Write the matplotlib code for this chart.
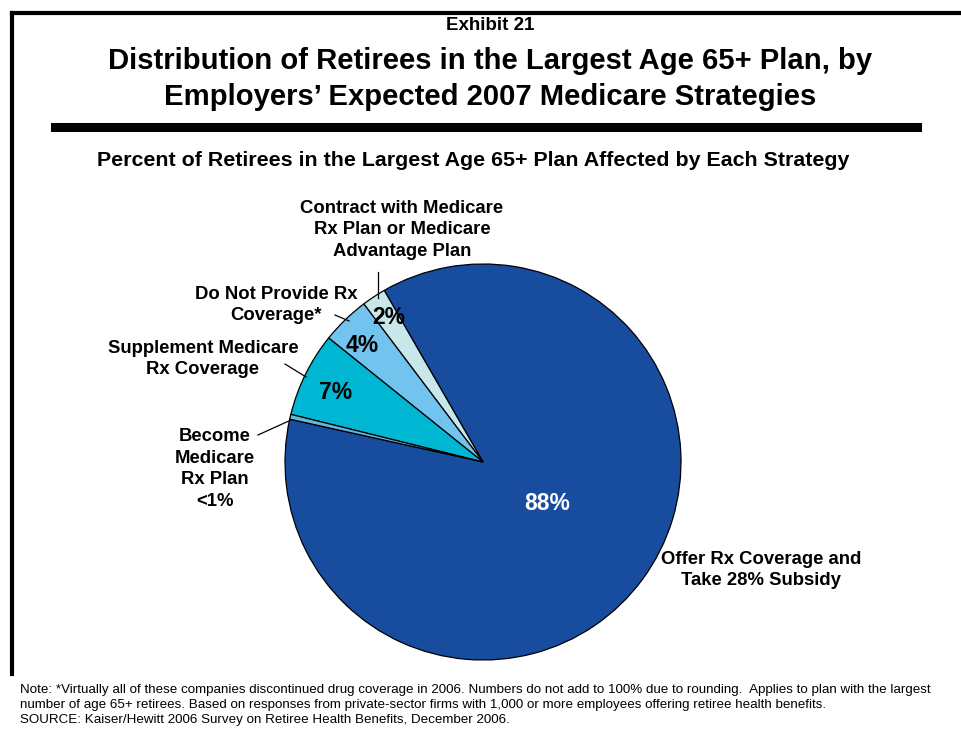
import matplotlib
matplotlib.use("Agg")
import matplotlib.pyplot as plt
from matplotlib.lines import Line2D

plt.rcParams['font.family'] = ['Liberation Sans', 'DejaVu Sans']

# Kesimler: büyükten başlayıp saat yönünün tersine
strategies = ['Offer Rx Coverage and\nTake 28% Subsidy',
              'Contract with Medicare\nRx Plan or Medicare\nAdvantage Plan',
              'Do Not Provide Rx\nCoverage*',
              'Supplement Medicare\nRx Coverage',
              'Become\nMedicare\nRx Plan\n<1%']
percents = [88, 2, 4, 7, 0.4]
pct_labels = ['88%', '2%', '4%', '7%', '']
colors = ['#174C9E', '#C8E7EB', '#72C3ED', '#00B7D3', '#5FB9E0']

W, H = 961, 730
fig = plt.figure(figsize=(W / 100, H / 100), dpi=100)


def px(x, y):
    # piksel koordinatından figür oranına
    return x / W, 1 - y / H


def yazi(x, y, s, size, ls=1.35, **kw):
    fig.text(*px(x, y), s, fontsize=size, fontweight='bold',
             ha='center', va='center', linespacing=ls, **kw)


def cizgi(x0, y0, x1, y1, lw=0.9):
    a, b = px(x0, y0)
    c, d = px(x1, y1)
    fig.add_artist(Line2D([a, c], [b, d], color='black', lw=lw,
                          transform=fig.transFigure))


# çerçeve: üst ve sol kenar
cizgi(12, 13, W, 13, lw=3)
cizgi(12, 13, 12, 674, lw=3)

yazi(490, 26, 'Exhibit 21', 13.5)
yazi(490, 61, 'Distribution of Retirees in the Largest Age 65+ Plan, by', 21.1)
yazi(490, 97, "Employers\u2019 Expected 2007 Medicare Strategies", 21.1)
cizgi(55, 127, 917, 127, lw=6.5)
yazi(473, 161, 'Percent of Retirees in the Largest Age 65+ Plan Affected by Each Strategy', 15.4)

# pasta grafiği
cx, cy, r = 483, 462, 198
ax = fig.add_axes([(cx - r) / W, (H - cy - r) / H, 2 * r / W, 2 * r / H])
ax.pie(percents, colors=colors, startangle=167.5, counterclock=True,
       wedgeprops=dict(edgecolor='black', linewidth=0.9))
ax.set_xlim(-1, 1)
ax.set_ylim(-1, 1)
ax.set_aspect('equal')
ax.axis('off')

# yüzde etiketleri
yazi(547, 504, pct_labels[0], 16.5, color='white')
yazi(389, 317, pct_labels[1], 16.5)
yazi(362, 346, pct_labels[2], 16.5)
yazi(336, 393, pct_labels[3], 16.5)

# kategori etiketleri ve kılavuz çizgileri
yazi(761, 570, strategies[0], 13.3)
yazi(402, 230, strategies[1], 13.3)
cizgi(378, 272, 378, 298)
yazi(276, 305, strategies[2], 13.3)
cizgi(335, 315, 349, 321)
yazi(203, 359, strategies[3], 13.3)
cizgi(285, 364, 306, 377)
yazi(215, 469, strategies[4], 13.3)
cizgi(258, 435, 291, 420)

note = ("Note: *Virtually all of these companies discontinued drug coverage in 2006. "
        "Numbers do not add to 100% due to rounding.  Applies to plan with the largest\n"
        "number of age 65+ retirees. Based on responses from private-sector firms with "
        "1,000 or more employees offering retiree health benefits.\n"
        "SOURCE: Kaiser/Hewitt 2006 Survey on Retiree Health Benefits, December 2006.")
fig.text(*px(20, 684), note, fontsize=9.6, ha='left', va='top', linespacing=1.32)

fig.savefig('out.png', dpi=100)
